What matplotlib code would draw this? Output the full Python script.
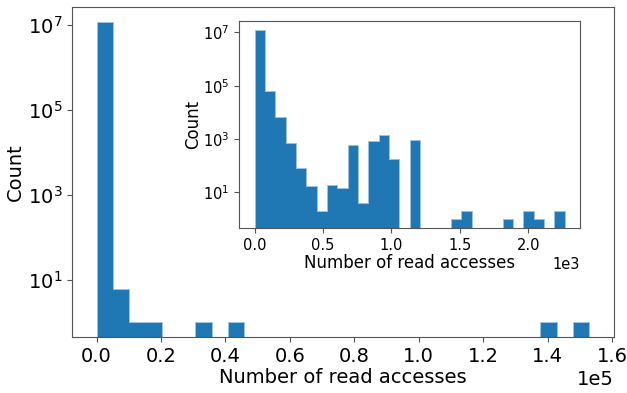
import numpy as np
import matplotlib.pyplot as plt
from matplotlib.ticker import NullLocator

# histogram of read accesses per block (30 bins each)
full_max = 153000
full_counts = [11800000, 6, 1, 1, 0, 0, 1, 0, 1, 0,
               0, 0, 0, 0, 0, 0, 0, 0, 0, 0,
               0, 0, 0, 0, 0, 0, 0, 1, 0, 1]

zoom_max = 2268
zoom_counts = [11900000, 65000, 6500, 700, 80, 17, 2, 18, 15, 620,
               4, 840, 1370, 180, 0, 920, 0, 0, 0, 1,
               2, 0, 0, 0, 1, 0, 2, 1, 0, 2]

color = '#1f77b4'
edge = '#9cc3e0'
spine_col = '#555555'


def draw_hist(ax, counts, vmax):
    edges = np.linspace(0, vmax, len(counts) + 1)
    centers = (edges[:-1] + edges[1:]) / 2
    ax.hist(centers, bins=edges, weights=counts, log=True, color=color,
            histtype='stepfilled', edgecolor=edge, linewidth=0.7)
    ax.yaxis.set_minor_locator(NullLocator())
    ax.set_yticks([1e1, 1e3, 1e5, 1e7])
    ax.ticklabel_format(axis='x', style='sci', scilimits=(0, 0))
    for s in ax.spines.values():
        s.set_color(spine_col)
        s.set_zorder(3)
    ax.tick_params(color=spine_col)


fig = plt.figure(figsize=(6.27, 3.93), dpi=100)
ax = fig.add_axes([0.1148, 0.1425, 0.8645, 0.8395])
draw_hist(ax, full_counts, full_max)
ax.tick_params(labelsize=14)
ax.xaxis.get_offset_text().set_fontsize(14)
ax.set_xlabel('Number of read accesses', fontsize=14, labelpad=2)
ax.set_ylabel('Count', fontsize=14, labelpad=2)

ins = fig.add_axes([0.3817, 0.419, 0.5438, 0.5275])
draw_hist(ins, zoom_counts, zoom_max)
ins.tick_params(labelsize=10.5)
ins.xaxis.get_offset_text().set_fontsize(10.5)
ins.set_xlabel('Number of read accesses', fontsize=12, labelpad=1)
ins.set_ylabel('Count', fontsize=12, labelpad=1)

fig.savefig('out.png', dpi=100)
